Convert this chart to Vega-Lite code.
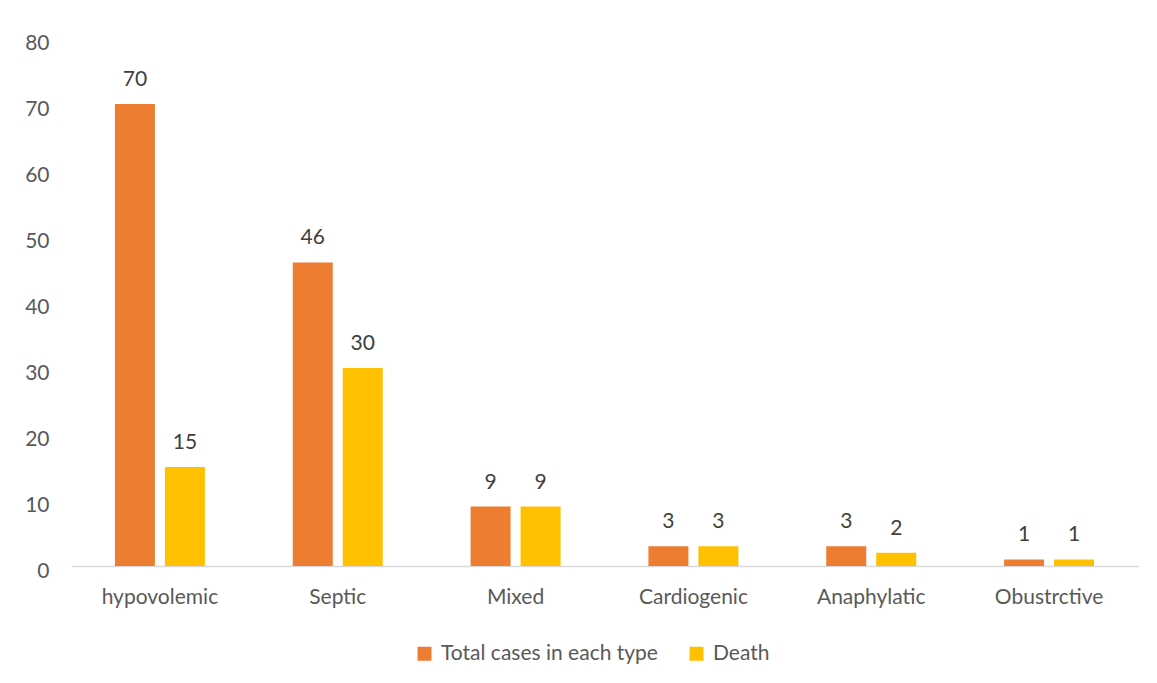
{
  "$schema": "https://vega.github.io/schema/vega-lite/v6.json",
  "width": 1067,
  "height": 528,
  "autosize": {"type": "none"},
  "padding": {"left": 71, "top": 38, "right": 19, "bottom": 117},
  "background": "white",
  "config": {
    "view": {"stroke": null},
    "font": "Lato",
    "axis": {"labelColor": "#595959", "labelFontSize": 21, "labelFont": "Lato"},
    "legend": {"labelColor": "#595959", "labelFontSize": 21, "labelFont": "Lato", "labelLimit": 0}
  },
  "data": {
    "values": [
      {"type": "hypovolemic", "series": "Total cases in each type", "value": 70},
      {"type": "hypovolemic", "series": "Death", "value": 15},
      {"type": "Septic", "series": "Total cases in each type", "value": 46},
      {"type": "Septic", "series": "Death", "value": 30},
      {"type": "Mixed", "series": "Total cases in each type", "value": 9},
      {"type": "Mixed", "series": "Death", "value": 9},
      {"type": "Cardiogenic", "series": "Total cases in each type", "value": 3},
      {"type": "Cardiogenic", "series": "Death", "value": 3},
      {"type": "Anaphylatic", "series": "Total cases in each type", "value": 3},
      {"type": "Anaphylatic", "series": "Death", "value": 2},
      {"type": "Obustrctive", "series": "Total cases in each type", "value": 1},
      {"type": "Obustrctive", "series": "Death", "value": 1}
    ]
  },
  "encoding": {
    "x": {
      "field": "type",
      "type": "nominal",
      "sort": null,
      "title": null,
      "scale": {"paddingInner": 0.494, "paddingOuter": 0.247},
      "axis": {"labelAngle": 0, "ticks": false, "domainColor": "#d9d9d9", "domainWidth": 1.5, "labelPadding": 20}
    },
    "xOffset": {
      "field": "series",
      "type": "nominal",
      "sort": ["Total cases in each type", "Death"],
      "scale": {"paddingInner": 0.2, "paddingOuter": 0}
    },
    "y": {
      "field": "value",
      "type": "quantitative",
      "title": null,
      "scale": {"domain": [0, 80], "nice": false},
      "axis": {"values": [0, 10, 20, 30, 40, 50, 60, 70, 80], "grid": false, "domain": false, "ticks": false, "labelPadding": 22, "labelOffset": 5}
    }
  },
  "layer": [
    {
      "mark": {"type": "bar"},
      "encoding": {
        "color": {
          "field": "series",
          "type": "nominal",
          "scale": {"domain": ["Total cases in each type", "Death"], "range": ["#ED7D31", "#FFC000"]},
          "legend": {
            "title": null,
            "orient": "none",
            "direction": "horizontal",
            "legendX": 343,
            "legendY": 605,
            "symbolType": "square",
            "symbolSize": 196,
            "symbolStrokeWidth": 0,
            "columnPadding": 28,
            "labelOffset": 6
          }
        }
      }
    },
    {
      "mark": {"type": "text", "baseline": "bottom", "dy": -14, "fontSize": 21, "color": "#404040", "font": "Lato"},
      "encoding": {"text": {"field": "value", "type": "quantitative"}}
    }
  ]
}
